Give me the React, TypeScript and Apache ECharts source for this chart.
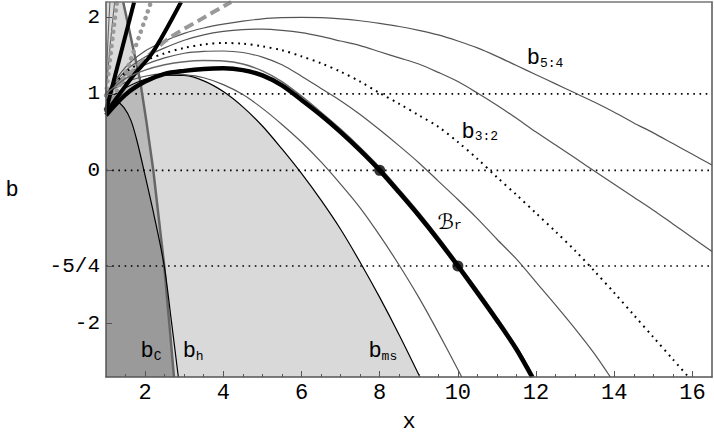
import React, { useEffect, useRef } from 'react';
import * as echarts from 'echarts';

// ---- axis ranges & ticks ----
const X_MIN = 1;
const X_MAX = 16.5;
const Y_MIN = -2.7;
const Y_MAX = 2.2;
const xMajorTicks = [2, 4, 6, 8, 10, 12, 14, 16];
const xMinorTicks = [1.5, 2, 2.5, 3, 3.5, 4, 4.5, 5, 5.5, 6, 6.5, 7, 7.5, 8, 8.5, 9, 9.5, 10, 10.5, 11, 11.5, 12, 12.5, 13, 13.5, 14, 14.5, 15, 15.5, 16];
const yTickValues = [-2, -1.25, 0, 1, 2];
const yTickLabels = ['-2', '-5/4', '0', '1', '2'];

// ---- horizontal dotted reference levels ----
const refLevels = [1, 0, -1.25];
const refStarts = [1.75, 1, 1];

// ---- curves (x, b) ----
const bH = [[1.44, 2.2], [1.87, 1.18], [2.03, 0.65], [2.21, 0], [2.49, -1.25], [2.74, -2.7]];
const bC = [[1, 0.915], [1.13, 0.954], [1.21, 0.94], [1.46, 0.82], [1.64, 0.65], [1.79, 0.39], [1.97, 0], [2.23, -0.59], [2.49, -1.25], [2.67, -1.96], [2.85, -2.7]];
const darkEdge = [[1, 0.915], [1.13, 0.954], [1.21, 0.94], [1.46, 0.82], [1.64, 0.65], [1.79, 0.39], [1.97, 0], [2.23, -0.59], [2.49, -1.25], [2.74, -2.7]];
const bMs = [[1, 0.97], [1.25, 1.0], [1.5, 1.08], [2, 1.19], [2.5, 1.245], [3, 1.24], [3.5, 1.17], [4, 1.03], [4.5, 0.83], [5, 0.58], [5.5, 0.28], [6, -0.04], [6.5, -0.39], [7, -0.77], [7.5, -1.2], [8, -1.66], [8.5, -2.15], [9.03, -2.7]];
const bR = [[1, 0.72], [1.5, 0.99], [2, 1.16], [2.5, 1.26], [3, 1.3], [3.5, 1.325], [4, 1.333], [4.5, 1.31], [5, 1.24], [5.5, 1.11], [6, 0.92], [6.5, 0.72], [7, 0.5], [7.5, 0.26], [8, 0], [8.5, -0.29], [9, -0.59], [9.5, -0.91], [10, -1.25], [10.5, -1.6], [11, -1.96], [11.5, -2.34], [11.9, -2.7]];
const thinD = [[1, 1], [1.5, 1.2], [2, 1.31], [2.5, 1.38], [3, 1.42], [3.5, 1.435], [4, 1.43], [4.5, 1.39], [5, 1.3], [5.5, 1.16], [6, 0.97], [6.5, 0.76], [7, 0.54], [7.5, 0.3], [8, 0.04], [8.5, -0.25], [9, -0.55], [9.5, -0.87], [10, -1.21], [10.5, -1.56], [11, -1.92], [11.5, -2.3], [11.95, -2.7]];
const thinA = [[1, 1], [1.5, 1.15], [2, 1.23], [2.5, 1.26], [3, 1.25], [3.5, 1.21], [4, 1.12], [4.5, 0.99], [5, 0.81], [5.5, 0.6], [6, 0.37], [6.5, 0.11], [7, -0.18], [7.5, -0.49], [8, -0.85], [8.5, -1.24], [9, -1.66], [9.5, -2.12], [10.1, -2.7]];
const thinB = [[1, 1], [1.5, 1.25], [2, 1.38], [2.5, 1.47], [3, 1.53], [3.5, 1.555], [4, 1.56], [4.5, 1.54], [5, 1.48], [5.5, 1.38], [6, 1.23], [6.5, 1.07], [7, 0.91], [7.5, 0.73], [8, 0.53], [8.5, 0.32], [9, 0.1], [9.5, -0.14], [10, -0.38], [10.5, -0.63], [11, -0.9], [11.5, -1.16], [12, -1.46], [12.5, -1.76], [13, -2.07], [13.5, -2.4], [13.9, -2.7]];
const b32 = [[1, 1], [1.5, 1.28], [2, 1.43], [2.5, 1.53], [3, 1.6], [3.5, 1.645], [4, 1.665], [4.5, 1.655], [5, 1.62], [5.5, 1.57], [6, 1.49], [6.5, 1.4], [7, 1.29], [7.5, 1.16], [8, 1.01], [8.5, 0.87], [9, 0.72], [9.5, 0.57], [10, 0.37], [10.5, 0.15], [11, -0.09], [11.5, -0.32], [12, -0.56], [12.5, -0.8], [13, -1.05], [13.5, -1.32], [14, -1.6], [14.5, -1.89], [15, -2.18], [15.5, -2.47], [15.9, -2.7]];
const thinC = [[1, 1], [1.5, 1.3], [2, 1.48], [2.5, 1.6], [3, 1.7], [3.5, 1.77], [4, 1.815], [4.5, 1.84], [5, 1.845], [5.5, 1.83], [6, 1.8], [6.5, 1.75], [7, 1.69], [7.5, 1.63], [8, 1.55], [8.5, 1.47], [9, 1.39], [9.5, 1.28], [10, 1.16], [10.5, 1.01], [11, 0.85], [11.5, 0.68], [12, 0.5], [12.5, 0.33], [13, 0.16], [13.5, -0.01], [14, -0.18], [14.5, -0.35], [15, -0.52], [15.5, -0.7], [16, -0.88], [16.5, -1.06]];
const b54 = [[1, 1], [1.5, 1.35], [2, 1.56], [2.5, 1.69], [3, 1.79], [3.5, 1.86], [4, 1.91], [4.5, 1.95], [5, 1.98], [5.5, 1.995], [6, 2.0], [6.5, 1.995], [7, 1.98], [7.5, 1.955], [8, 1.92], [8.5, 1.88], [9, 1.83], [9.5, 1.77], [10, 1.69], [10.5, 1.6], [11, 1.49], [11.5, 1.37], [12, 1.25], [12.5, 1.13], [13, 1.01], [13.5, 0.89], [14, 0.76], [14.5, 0.62], [15, 0.49], [15.5, 0.35], [16, 0.21], [16.5, 0.07]];
const steep1 = [[1, 1], [1.04, 1.6], [1.1, 2.2]];
const steep2 = [[1, 1], [1.1, 1.6], [1.22, 2.2]];
const grayDot1 = [[1, 0.98], [1.08, 1.35], [1.28, 2.2]];
const grayDot2 = [[1, 0.8], [1.46, 1.22], [2.15, 2.2]];
const grayDash = [[1, 0.95], [1.64, 1.28], [2.54, 1.7], [3.38, 1.96], [4.2, 2.2]];
const black1 = [[1, 0.78], [1.72, 2.2]];
const black2 = [[1, 0.75], [1.67, 1.22], [2.18, 1.53], [2.92, 2.2]];
const keyDots = [[8, 0], [10, -1.25]];

// ---- annotations ----
const labelPos = [[12.23, 1.46], [10.56, 0.5], [9.79, -0.67], [8.08, -2.37], [2.15, -2.37], [3.23, -2.37]];
const labelMain = ['b', 'b', 'ℬ', 'b', 'b', 'b'];
const labelSub = ['5:4', '3:2', 'r', 'ms', 'C', 'h'];

const MONO = '"Liberation Mono", "DejaVu Sans Mono", monospace';

function lineSeries(data: number[][], color: string, width: number, type: any = 'solid', cap: string = 'butt') {
  return {
    type: 'line',
    data,
    smooth: 0.3,
    symbol: 'none',
    silent: true,
    z: 3,
    lineStyle: { color, width, type, cap },
  };
}

export default function App() {
  const ref = useRef<HTMLDivElement>(null);

  useEffect(() => {
    if (!ref.current) return;
    const chart = echarts.init(ref.current, undefined, { renderer: 'svg' });

    const bhRegion = [[X_MIN, Y_MAX], ...bH, [X_MIN, Y_MIN]];

    const series: any[] = [
      {
        type: 'custom',
        silent: true,
        clip: true,
        z: 1,
        data: [[X_MIN, Y_MIN]],
        renderItem: (_p: any, api: any) => ({
          type: 'polygon',
          shape: { points: bhRegion.map((p) => api.coord(p)) },
          style: { fill: 'rgba(0,0,0,0.14)' },
        }),
      },
      {
        type: 'line', data: bMs, smooth: 0.3, symbol: 'none', silent: true, z: 1,
        lineStyle: { width: 0, opacity: 0 },
        areaStyle: { origin: 'start', color: 'rgba(0,0,0,0.15)', opacity: 1 },
      },
      {
        type: 'line', data: darkEdge, smooth: 0.3, symbol: 'none', silent: true, z: 1,
        lineStyle: { width: 0, opacity: 0 },
        areaStyle: { origin: 'start', color: '#9a9a9a', opacity: 1 },
      },
    ];

    refLevels.forEach((lv, i) => {
      series.push({
        type: 'line',
        data: [[refStarts[i], lv], [X_MAX, lv]],
        symbol: 'none', silent: true, z: 2,
        lineStyle: { color: '#000', width: 1.6, type: [1.6, 4.6] },
      });
    });

    series.push({ type: 'line', data: bH, smooth: false, symbol: 'none', silent: true, z: 3, lineStyle: { color: '#666', width: 2.5 } });
    series.push(lineSeries(bC, '#000', 1.2));
    series.push(lineSeries(bMs, '#000', 1.2));
    series.push(lineSeries(thinA, '#555', 1.2));
    series.push(lineSeries(thinB, '#555', 1.2));
    series.push(lineSeries(thinC, '#555', 1.2));
    series.push(lineSeries(b54, '#555', 1.2));
    series.push(lineSeries(steep1, '#666', 1.1));
    series.push(lineSeries(steep2, '#666', 1.1));
    series.push(lineSeries(b32, '#000', 2, [1.8, 4.6]));
    series.push(lineSeries(grayDot1, '#999', 4.5, [0.1, 7], 'round'));
    series.push(lineSeries(grayDot2, '#999', 4.5, [0.1, 7], 'round'));
    series.push(lineSeries(grayDash, '#999', 4, [10, 5]));
    series.push(lineSeries(black1, '#000', 4));
    series.push(lineSeries(black2, '#000', 4));
    series.push(lineSeries(thinD, '#666', 1.4));
    series.push(lineSeries(bR, '#000', 4.5));
    series.push({
      type: 'scatter', data: keyDots, symbolSize: 11, silent: true, z: 5,
      itemStyle: { color: '#000' },
    });
    series.push({
      type: 'custom',
      silent: true,
      clip: false,
      z: 20,
      data: labelPos,
      renderItem: (params: any, api: any) => {
        const i = params.dataIndex;
        const pt = api.coord([api.value(0), api.value(1)]);
        const mainTag = labelMain[i] === 'ℬ' ? 'B' : 'm';
        return {
          type: 'text',
          x: pt[0],
          y: pt[1],
          z2: 100,
          style: {
            text: `{${mainTag}|${labelMain[i]}}{s|${labelSub[i]}}`,
            align: 'center',
            verticalAlign: 'middle',
            fill: '#000',
            rich: {
              m: { fontFamily: MONO, fontSize: 22, fill: '#000', color: '#000', verticalAlign: 'middle' },
              B: { fontFamily: '"DejaVu Sans"', fontSize: 21, fill: '#000', color: '#000', verticalAlign: 'middle' },
              s: { fontFamily: MONO, fontSize: 13, fill: '#000', color: '#000', verticalAlign: 'bottom' },
            },
          },
        };
      },
    });

    const noSplit = { show: false };
    chart.setOption({
      animation: false,
      backgroundColor: '#fff',
      grid: { left: 106, right: 2, top: 2, bottom: 64, containLabel: false },
      xAxis: [
        {
          type: 'value', min: X_MIN, max: X_MAX, position: 'bottom', z: 10,
          axisLine: { show: true, onZero: false, lineStyle: { color: '#555', width: 1.5 } },
          axisTick: { show: true, inside: true, length: 6, customValues: xMajorTicks, lineStyle: { color: '#555', width: 1 } },
          axisLabel: { customValues: xMajorTicks, fontFamily: MONO, fontSize: 22, color: '#000', margin: 5 },
          splitLine: noSplit,
        },
        {
          type: 'value', min: X_MIN, max: X_MAX, position: 'bottom', z: 10,
          axisLine: { show: false, onZero: false },
          axisTick: { show: true, inside: true, length: 3, customValues: xMinorTicks, lineStyle: { color: '#555', width: 1 } },
          axisLabel: { show: false },
          splitLine: noSplit,
        },
        {
          type: 'value', min: X_MIN, max: X_MAX, position: 'top', z: 10,
          axisLine: { show: true, onZero: false, lineStyle: { color: '#777', width: 1.5 } },
          axisTick: { show: false }, axisLabel: { show: false }, splitLine: noSplit,
        },
      ],
      yAxis: [
        {
          type: 'value', min: Y_MIN, max: Y_MAX, position: 'left', z: 10,
          axisLine: { show: true, onZero: false, lineStyle: { color: '#555', width: 1.5 } },
          axisTick: { show: true, inside: true, length: 6, customValues: yTickValues, lineStyle: { color: '#555', width: 1 } },
          axisLabel: {
            customValues: yTickValues, fontFamily: MONO, fontSize: 21, color: '#000', margin: 6,
            formatter: (v: number) => {
              const i = yTickValues.indexOf(v);
              return i >= 0 ? yTickLabels[i] : '';
            },
          },
          splitLine: noSplit,
        },
        {
          type: 'value', min: Y_MIN, max: Y_MAX, position: 'right', z: 10,
          axisLine: { show: true, onZero: false, lineStyle: { color: '#555', width: 1.5 } },
          axisTick: { show: false }, axisLabel: { show: false }, splitLine: noSplit,
        },
      ],
      graphic: [
        {
          type: 'text', x: 12, y: 190, silent: true,
          style: { text: 'b', font: `22px ${MONO}`, fill: '#000', align: 'center', verticalAlign: 'middle' },
        },
        {
          type: 'text', x: 409, y: 422, silent: true,
          style: { text: 'x', font: `22px ${MONO}`, fill: '#000', align: 'center', verticalAlign: 'middle' },
        },
      ],
      series,
    });

    return () => chart.dispose();
  }, []);

  return <div ref={ref} style={{ width: 714, height: 441, position: 'absolute', left: 0, top: 0 }} />;
}
